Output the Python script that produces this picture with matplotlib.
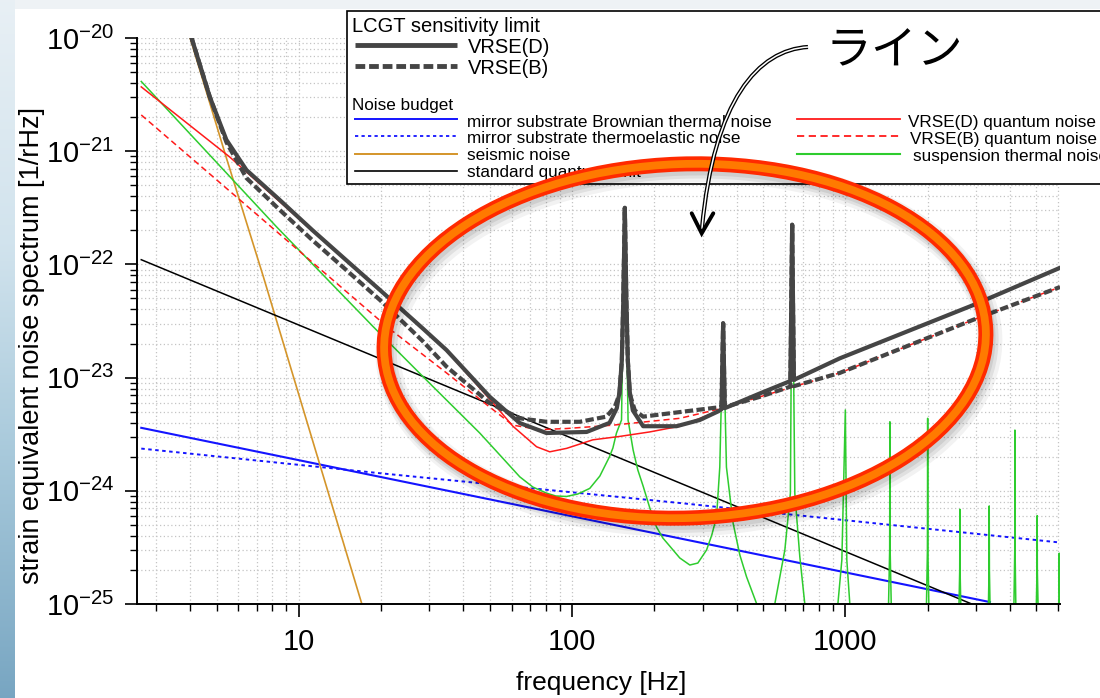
import numpy as np
import matplotlib
matplotlib.use('Agg')
import matplotlib.pyplot as plt
from matplotlib.patches import Ellipse, Rectangle, PathPatch
from matplotlib.path import Path
from matplotlib.ticker import NullFormatter, FixedLocator, FixedFormatter

plt.rcParams['font.family'] = ['Liberation Sans', 'DejaVu Sans']
plt.rcParams['mathtext.default'] = 'regular'

# ------------------------------------------------------------------ data
# total sensitivity, VRSE(D)
f_vrse_d = [4.04, 4.72, 5.43, 6.43, 8.51, 11.2, 14.9, 19.8, 28.4, 34.7, 49.9, 64.3, 80.5,
            113, 137, 145.7, 149, 152, 153.9, 155.9, 157.9, 159.9, 162.6, 166.8, 181.9,
            241, 293, 341, 352, 356.9, 362, 486, 629, 638.5, 648, 954, 2935, 6100]
h_vrse_d = [1.02e-20, 3.02e-21, 1.26e-21, 6.82e-22, 3.71e-22, 2.01e-22, 1.09e-22, 5.94e-23,
            2.72e-23, 1.75e-23, 6.78e-24, 3.97e-24, 3.24e-24,
            3.31e-24, 3.98e-24, 5.37e-24, 7.41e-24, 1.41e-23, 4.9e-23, 3.16e-22, 4.9e-23,
            1.41e-23, 7.41e-24, 5.13e-24, 3.72e-24,
            3.72e-24, 4.22e-24, 5.01e-24, 5.25e-24, 3.02e-23, 5.37e-24, 7.24e-24, 9.33e-24,
            2.24e-22, 9.55e-24, 1.48e-23, 4.37e-23, 9.33e-23]

# total sensitivity, VRSE(B)
f_vrse_b = [4.04, 4.72, 5.43, 6.43, 8.51, 11.2, 14.9, 19.8, 28.4, 34.7, 49.9, 64.3, 80.5,
            106.6, 133.5, 143.2, 149, 152, 153.9, 155.9, 157.9, 159.9, 162.6, 169.6, 181.9,
            277, 352, 356.9, 362, 486, 629, 638.5, 648, 954, 2935, 6100]
h_vrse_b = [1.02e-20, 3.02e-21, 1.20e-21, 5.79e-22, 3.03e-22, 1.64e-22, 8.93e-23, 4.85e-23,
            2.10e-23, 1.25e-23, 5.97e-24, 4.37e-24, 4.07e-24,
            4.07e-24, 4.52e-24, 5.5e-24, 7.16e-24, 1.41e-23, 4.9e-23, 3.16e-22, 4.9e-23,
            1.41e-23, 7.16e-24, 5.13e-24, 4.52e-24,
            5.13e-24, 5.5e-24, 3.02e-23, 5.5e-24, 6.76e-24, 8.32e-24, 2.24e-22, 8.4e-24,
            1.10e-23, 3.24e-23, 6.31e-23]

# quantum noise
f_qn_d = [2.65, 5.58, 11.2, 14.9, 19.8, 28.4, 34.7, 49.9, 60.7, 74.1, 82.8, 95.4, 119, 149,
          192, 248, 356, 638, 954, 2935, 6100]
h_qn_d = [3.7e-21, 8.9e-22, 1.98e-22, 1.08e-22, 5.9e-23, 2.7e-23, 1.73e-23, 6.46e-24,
          3.72e-24, 2.45e-24, 2.21e-24, 2.37e-24, 2.82e-24, 3.02e-24,
          3.31e-24, 3.72e-24, 5.25e-24, 9.55e-24, 1.48e-23, 4.37e-23, 9.33e-23]

f_qn_b = [2.65, 21.5, 34.7, 49.9, 60.7, 76.1, 95.4, 140.9, 248, 356, 486, 954, 2935, 6100]
h_qn_b = [2.09e-21, 2.69e-23, 1.10e-23, 5.5e-24, 3.8e-24, 3.47e-24, 3.55e-24, 3.8e-24,
          4.37e-24, 5.37e-24, 6.76e-24, 1.10e-23, 3.24e-23, 6.31e-23]

# suspension thermal noise
f_susp = [2.65, 8.28, 18.7, 30.1, 45.9, 54.4, 64.3, 71.8, 80.5, 87.1, 95.4, 104.9, 116,
          126.3, 137, 141, 145.3, 151.6, 155.9,
          160.2, 167.2, 173.9, 181.9, 192.4, 203.6, 214.7, 227.8, 247.7, 269.6, 288.4,
          310.4, 324.4, 337.7, 347, 357, 367, 388.3, 410.9,
          434.7, 473, 520, 552, 600.4, 629, 638.5, 653, 681, 710, 800,
          938.6, 970.6, 999.6, 1012, 1038, 1150,
          1430, 1452, 1455, 1458, 1480,
          1970, 1996, 2000, 2004, 2030,
          2590, 2620, 2624, 2628, 2660,
          3320, 3355, 3360, 3365, 3400,
          4120, 4166, 4172, 4178, 4220,
          4970, 5026, 5033, 5040, 5100,
          6000, 6053, 6061, 6069, 6150]
h_susp = [4.13e-21, 2.15e-22, 2.82e-23, 8.91e-24, 3.24e-24, 2.07e-24, 1.33e-24, 1.08e-24,
          9.55e-25, 9.0e-25, 8.91e-25, 9.37e-25, 1.05e-24,
          1.35e-24, 2.0e-24, 2.39e-24, 3.24e-24, 4.22e-24, 3.16e-22,
          4.22e-24, 2.29e-24, 1.53e-24, 1.10e-24, 7.05e-25, 4.79e-25, 3.83e-25, 3.24e-25,
          2.55e-25, 2.21e-25, 2.30e-25,
          3.0e-25, 4.07e-25, 5.89e-25, 1.62e-24, 3.02e-23, 1.62e-24, 5.16e-25, 2.71e-25,
          1.74e-25, 1.01e-25, 6e-26, 1.01e-25, 3.0e-25, 9.5e-25, 2.24e-22, 9.5e-25, 2.62e-25,
          1.01e-25, 5e-26,
          1.0e-25, 2.45e-25, 5.18e-24, 2.45e-25, 1.0e-25, 5e-26,
          5e-26, 3e-25, 4.07e-24, 3e-25, 5e-26,
          5e-26, 3e-25, 4.37e-24, 3e-25, 5e-26,
          5e-26, 2e-25, 6.87e-25, 2e-25, 5e-26,
          5e-26, 2e-25, 7.35e-25, 2e-25, 5e-26,
          5e-26, 3e-25, 3.44e-24, 3e-25, 5e-26,
          5e-26, 2e-25, 6.03e-25, 2e-25, 5e-26,
          5e-26, 1.5e-25, 2.81e-25, 1.5e-25, 5e-26]

# mirror substrate noises, seismic, SQL
f_brown = [2.65, 3380]
h_brown = [3.6e-24, 1.04e-25]
f_thermoel = [2.65, 19.8, 248, 6050]
h_thermoel = [2.36e-24, 1.43e-24, 7.8e-25, 3.5e-25]
f_seismic = [4.0, 5.4, 7.4, 11.9, 17.0]
h_seismic = [1.0e-20, 9.1e-22, 7.9e-23, 1.74e-24, 1.0e-25]
f_sql = [2.65, 2900]
h_sql = [1.10e-22, 1.0e-25]

x_major = [10, 100, 1000]
x_major_labels = ['10', '100', '1000']
x_minor = [3, 4, 5, 6, 7, 8, 9, 20, 30, 40, 50, 60, 70, 80, 90,
           200, 300, 400, 500, 600, 700, 800, 900, 2000, 3000, 4000, 5000, 6000]
y_major = [1e-25, 1e-24, 1e-23, 1e-22, 1e-21, 1e-20]
y_major_labels = [r'$10^{-25}$', r'$10^{-24}$', r'$10^{-23}$', r'$10^{-22}$', r'$10^{-21}$',
                  r'$10^{-20}$']
y_minor = [m * 10.0 ** e for e in range(-25, -20) for m in range(2, 10)]

legend_left = ['mirror substrate Brownian thermal noise', 'mirror substrate thermoelastic noise',
               'seismic noise', 'standard quantum limit']
legend_right = ['VRSE(D) quantum noise', 'VRSE(B) quantum noise', 'suspension thermal noise']

# ------------------------------------------------------------------ styles
GRAY = '#454545'
RED = '#ff1a1a'
GREEN = '#2ecc2e'
BLUE = '#1414ff'
ORANGE = '#d4952a'

W, H = 1100, 698
fig = plt.figure(figsize=(W / 100, H / 100), dpi=100, facecolor='white')

# background decoration (left gradient strip, top strip)
bg = fig.add_axes([0, 0, 1, 1], zorder=-10)
stops = np.array([0.0, 0.35, 0.65, 1.0])
cols = np.array([[0.91, 0.94, 0.96], [0.82, 0.89, 0.93], [0.66, 0.79, 0.86], [0.47, 0.65, 0.76]])
t = np.linspace(0, 1, 256)
img = np.stack([np.interp(t, stops, cols[:, k]) for k in range(3)], axis=-1)[:, None, :]
bg.imshow(img, extent=(0, 15, H, 0), aspect='auto', interpolation='bilinear')
bg.add_patch(Rectangle((15, 0), W - 15, 9, color='#eef2f5', lw=0))
bg.set_xlim(0, W); bg.set_ylim(H, 0)
bg.axis('off')

# main axes
ax = fig.add_axes([136.7 / W, 1 - 604 / H, (1060 - 136.7) / W, (604 - 38) / H])
ax.set_xscale('log'); ax.set_yscale('log')
ax.set_xlim(2.55, 6100); ax.set_ylim(1e-25, 1e-20)
ax.set_axisbelow(True)

ax.plot(f_brown, h_brown, color=BLUE, lw=1.5)
ax.plot(f_thermoel, h_thermoel, color=BLUE, lw=1.4, linestyle=(0, (1.8, 1.8)))
ax.plot(f_seismic, h_seismic, color=ORANGE, lw=1.2)
ax.plot(f_sql, h_sql, color='black', lw=1.1)
ax.plot(f_susp, h_susp, color=GREEN, lw=1.1)
ax.plot(f_qn_d, h_qn_d, color=RED, lw=1.1)
ax.plot(f_qn_b, h_qn_b, color=RED, lw=1.1, linestyle=(0, (4, 2.5)))
ax.plot(f_vrse_b, h_vrse_b, color=GRAY, lw=3.0, linestyle=(0, (2, 0.8)))
ax.plot(f_vrse_d, h_vrse_d, color=GRAY, lw=3.0)

for s in ['top', 'right']:
    ax.spines[s].set_visible(False)
for s in ['left', 'bottom']:
    ax.spines[s].set_linewidth(1.4)

ax.xaxis.set_major_locator(FixedLocator(x_major))
ax.xaxis.set_major_formatter(FixedFormatter(x_major_labels))
ax.xaxis.set_minor_locator(FixedLocator(x_minor))
ax.xaxis.set_minor_formatter(NullFormatter())
ax.yaxis.set_major_locator(FixedLocator(y_major))
ax.yaxis.set_major_formatter(FixedFormatter(y_major_labels))
ax.yaxis.set_minor_locator(FixedLocator(y_minor))
ax.yaxis.set_minor_formatter(NullFormatter())
ax.tick_params(which='major', direction='out', length=9, width=1.2, labelsize=21, pad=7)
ax.tick_params(which='minor', direction='out', length=5, width=1.0)
ax.tick_params(axis='x', which='major', pad=8)
ax.grid(True, which='both', axis='both', color='#c4c4c4', linestyle=(0, (1, 2)), lw=0.9)

fig.text(601 / W, 1 - 683 / H, 'frequency [Hz]', ha='center', va='center', fontsize=19)
fig.text(32 / W, 1 - 346 / H, 'strain equivalent noise spectrum [1/rHz]', ha='center',
         va='center', rotation=90, fontsize=19.5)

# overlay (legend + annotations) in pixel coordinates
ov = fig.add_axes([0, 0, 1, 1], zorder=5)
ov.set_xlim(0, W); ov.set_ylim(H, 0); ov.axis('off')
ov.patch.set_alpha(0)

ov.add_patch(Rectangle((346.7, 11), 800, 173, fc='white', ec='black', lw=1.2, zorder=1))
ov.text(352, 32.5, 'LCGT sensitivity limit', fontsize=14.5, va='baseline', zorder=2)
ov.plot([355, 457], [45, 45], color=GRAY, lw=3.5, solid_capstyle='butt', zorder=2)
ov.plot([355, 457], [66, 66], color=GRAY, lw=3.5, linestyle=(0, (2, 0.8)), zorder=2)
ov.text(468, 53.3, 'VRSE(D)', fontsize=14.5, va='baseline', zorder=2)
ov.text(468, 74, 'VRSE(B)', fontsize=14.5, va='baseline', zorder=2)
ov.text(352, 110, 'Noise budget', fontsize=12.3, va='baseline', zorder=2)

left_styles = [dict(color=BLUE, lw=1.4), dict(color=BLUE, lw=1.3, linestyle=(0, (1.8, 1.8))),
               dict(color=ORANGE, lw=1.4), dict(color='black', lw=1.2)]
left_ys = [119, 136.3, 154, 170.7]
left_base = [127.3, 143.3, 160.5, 177.3]
for lab, st, yl, yb in zip(legend_left, left_styles, left_ys, left_base):
    ov.plot([355, 457], [yl, yl], zorder=2, **st)
    ov.text(466.7, yb, lab, fontsize=12.3, va='baseline', zorder=2)

right_styles = [dict(color=RED, lw=1.3), dict(color=RED, lw=1.3, linestyle=(0, (4, 2.5))),
                dict(color=GREEN, lw=1.5)]
right_ys = [119, 136.3, 153.7]
right_base = [127.3, 144.3, 161]
right_x = [908.3, 910, 912.7]
for lab, st, yl, yb, xt in zip(legend_right, right_styles, right_ys, right_base, right_x):
    ov.plot([797, 900], [yl, yl], zorder=2, **st)
    ov.text(xt, yb, lab, fontsize=12.3, va='baseline', zorder=2)

# highlight ellipse with soft shadow
for dx, dy, a, lw in [(4, 6, 0.05, 18), (3, 5, 0.07, 14), (2, 4, 0.08, 11)]:
    ov.add_patch(Ellipse((685 + dx, 341 + dy), 602, 354, angle=-2, fill=False, ec='black',
                         alpha=a, lw=lw, zorder=6))
ov.add_patch(Ellipse((685, 341), 602, 354, angle=-2, fill=False, ec='#ff2a00', lw=10.8, zorder=7))
ov.add_patch(Ellipse((685, 341), 602, 354, angle=-2, fill=False, ec='#ff7a00', lw=5.6, zorder=8))

# double-line arrow
verts = [(808, 47), (758, 50), (714, 100), (702, 228)]
codes = [Path.MOVETO, Path.CURVE4, Path.CURVE4, Path.CURVE4]
ov.add_patch(PathPatch(Path(verts, codes), fill=False, ec='black', lw=3.0, zorder=9))
ov.add_patch(PathPatch(Path(verts, codes), fill=False, ec='white', lw=1.1, zorder=10))
ov.plot([691.7, 701.7, 713.3], [213.3, 233.3, 213.3], color='black', lw=2.8,
        solid_joinstyle='miter', solid_capstyle='round', zorder=11)

ov.text(894, 51, 'ライン', fontsize=33, ha='center', va='center',
        family=['Noto Sans CJK JP', 'DejaVu Sans'], zorder=11)

fig.savefig('out.png', dpi=100, facecolor='white')
